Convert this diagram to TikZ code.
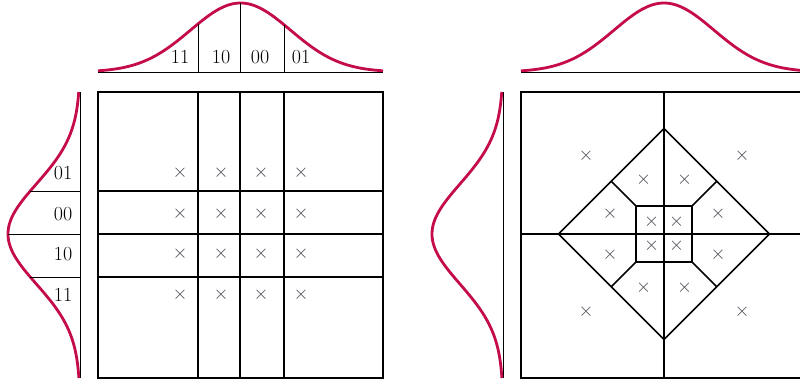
\documentclass[tikz,border=0pt]{standalone}
\usepackage{tikz}
\usetikzlibrary{calc}
\definecolor{pdfred}{RGB}{196,12,72}
\definecolor{markgray}{RGB}{70,72,82}

\tikzset{
  pdf/.style={line width=2.1pt, pdfred},
  cell/.style={line width=1.3pt},
  frame/.style={line width=1.6pt},
  base/.style={line width=0.6pt},
  qpt/.style={text=markgray, inner sep=0pt, font=\fontsize{15}{18}\selectfont},
  code/.style={inner sep=0pt, font=\fontsize{15}{18}\selectfont}
}

\begin{document}
\begin{tikzpicture}[x=0.75pt, y=-0.75pt,
    declare function={g(\t)=exp(-(\t/50)^2/2);}]
  \useasboundingbox (0,0) rectangle (800,381);

  % scalar quantiser per axis
  \draw[frame] (98,92) rectangle (383,378);
  \foreach \x in {198,240,284} \draw[cell] (\x,92) -- (\x,378);
  \foreach \y in {191,234,277} \draw[cell] (98,\y) -- (383,\y);

  \draw[base] (98,72) -- (383,72);
  \draw[pdf] plot[domain=98:383, samples=90] (\x, {72-69*g(\x-240.5)});
  \foreach \x in {198,240,284} \draw[base] (\x,72) -- (\x,{72-69*g(\x-240.5)});

  \draw[base] (80,92) -- (80,378);
  \draw[pdf] plot[domain=92:378, samples=90] ({80-72*g(\x-234)}, \x);
  \foreach \y in {191,234,277} \draw[base] (80,\y) -- ({80-72*g(\y-234)},\y);

  \foreach \x/\c in {180/11,221/10,260/00,301/01}
    \node[code] (top\c) at (\x,57) {\c};
  \foreach \y/\c in {173/01,214/00,254/10,295/11}
    \node[code] (side\c) at (63,\y) {\c};

  \foreach \x in {180,221,261,301}
    \foreach \y in {173,214,254,295}
      \node[qpt] (p\x-\y) at (\x,\y) {$\times$};

  % vector quantiser
  \begin{scope}[shift={(664,234)}]
    \draw[frame] (-143,-142) rectangle (143,144);
    \draw[cell] (0,-142) -- (0,144);
    \draw[cell] (-143,0) -- (143,0);
    \draw[cell] (0,-105.5) -- (105.5,0) -- (0,105.5) -- (-105.5,0) -- cycle;
    \draw[frame] (-28,-28) rectangle (28,28);
    \foreach \sx in {-1,1}
      \foreach \sy in {-1,1}
        \draw[cell] (\sx*28,\sy*28) -- (\sx*52.75,\sy*52.75);

    \draw[base] (-143,-162) -- (143,-162);
    \draw[pdf] plot[domain=-143:143, samples=90] (\x, {-162-69*g(\x)});
    \draw[base] (-161,-142) -- (-161,144);
    \draw[pdf] plot[domain=-142:144, samples=90] ({-161-71*g(\x)}, \x);

    \foreach \sx in {-1,1}
      \foreach \sy in {-1,1} {
        \node[qpt] (o\sx\sy) at (\sx*78,\sy*78) {$\times$};
        \node[qpt] (m\sx\sy) at (\sx*20.5,\sy*54) {$\times$};
        \node[qpt] (n\sx\sy) at (\sx*54,\sy*20.5) {$\times$};
        \node[qpt] (i\sx\sy) at (\sx*12.5,\sy*12) {$\times$};
      }
  \end{scope}
\end{tikzpicture}
\end{document}
